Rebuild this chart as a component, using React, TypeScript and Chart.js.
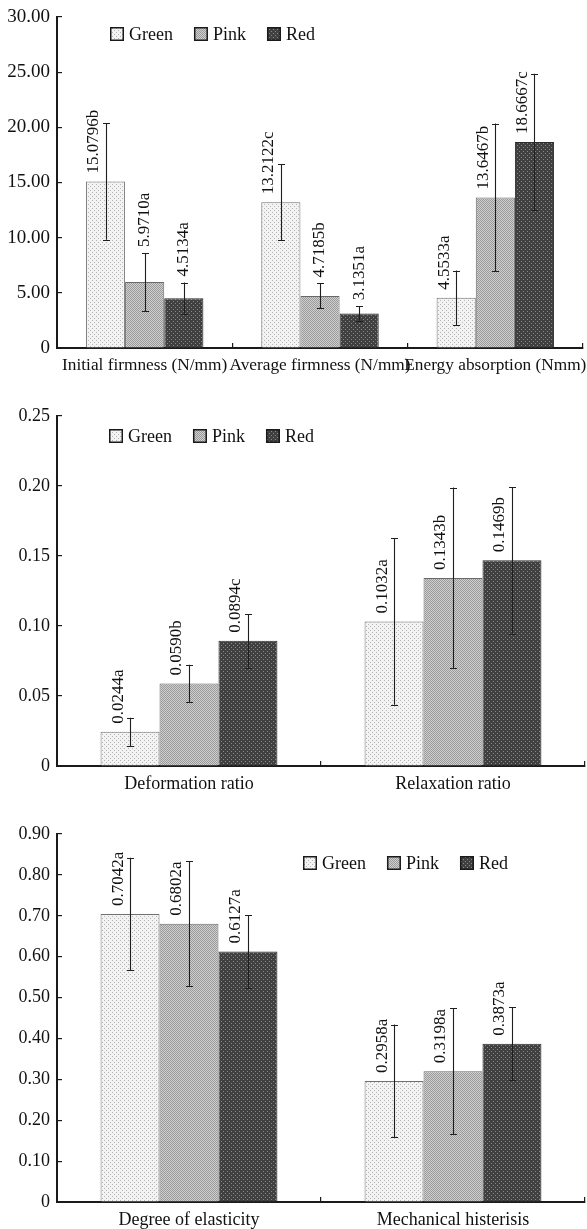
import React, { useEffect, useRef } from 'react';
import { Chart, registerables } from 'chart.js';

Chart.register(...registerables);

// ---------- Data ----------
const SERIES = ['Green', 'Pink', 'Red'];

// Chart 1: firmness / energy
const FIRM_CATEGORIES = ['Initial firmness (N/mm)', 'Average firmness (N/mm)', 'Energy absorption (Nmm)'];
const FIRM_GREEN = [15.0796, 13.2122, 4.5533];
const FIRM_PINK = [5.971, 4.7185, 13.6467];
const FIRM_RED = [4.5134, 3.1351, 18.6667];
const FIRM_GREEN_ERR = [5.27, 3.46, 2.46];
const FIRM_PINK_ERR = [2.64, 1.13, 6.7];
const FIRM_RED_ERR = [1.42, 0.65, 6.2];
const FIRM_GREEN_LETTERS = ['b', 'c', 'a'];
const FIRM_PINK_LETTERS = ['a', 'b', 'b'];
const FIRM_RED_LETTERS = ['a', 'a', 'c'];

// Chart 2: ratios
const RATIO_CATEGORIES = ['Deformation ratio', 'Relaxation ratio'];
const RATIO_GREEN = [0.0244, 0.1032];
const RATIO_PINK = [0.059, 0.1343];
const RATIO_RED = [0.0894, 0.1469];
const RATIO_GREEN_ERR = [0.0101, 0.0595];
const RATIO_PINK_ERR = [0.0133, 0.0646];
const RATIO_RED_ERR = [0.0191, 0.0523];
const RATIO_GREEN_LETTERS = ['a', 'a'];
const RATIO_PINK_LETTERS = ['b', 'b'];
const RATIO_RED_LETTERS = ['c', 'b'];

// Chart 3: elasticity / hysteresis
const ELAST_CATEGORIES = ['Degree of elasticity', 'Mechanical histerisis'];
const ELAST_GREEN = [0.7042, 0.2958];
const ELAST_PINK = [0.6802, 0.3198];
const ELAST_RED = [0.6127, 0.3873];
const ELAST_GREEN_ERR = [0.138, 0.138];
const ELAST_PINK_ERR = [0.153, 0.154];
const ELAST_RED_ERR = [0.089, 0.089];
const ELAST_GREEN_LETTERS = ['a', 'a'];
const ELAST_PINK_LETTERS = ['a', 'a'];
const ELAST_RED_LETTERS = ['a', 'a'];

// ---------- Styling helpers ----------
const FONT_FAMILY = '"Liberation Serif", "Times New Roman", serif';
Chart.defaults.font.family = FONT_FAMILY;
Chart.defaults.color = '#111';

function makePattern(kind: string): CanvasPattern | string {
  const c = document.createElement('canvas');
  c.width = 4;
  c.height = 4;
  const g = c.getContext('2d');
  if (!g) return '#ccc';
  if (kind === 'Green') {
    g.fillStyle = '#f3f3f3';
    g.fillRect(0, 0, 4, 4);
    g.fillStyle = '#b4b4b4';
    g.fillRect(0, 0, 1, 1);
    g.fillRect(2, 2, 1, 1);
  } else if (kind === 'Pink') {
    g.fillStyle = '#cfcfcf';
    g.fillRect(0, 0, 4, 4);
    g.fillStyle = '#9a9a9a';
    g.fillRect(0, 0, 1, 1);
    g.fillRect(2, 0, 1, 1);
    g.fillRect(1, 1, 1, 1);
    g.fillRect(3, 1, 1, 1);
    g.fillRect(0, 2, 1, 1);
    g.fillRect(2, 2, 1, 1);
    g.fillRect(1, 3, 1, 1);
    g.fillRect(3, 3, 1, 1);
  } else {
    g.fillStyle = '#404040';
    g.fillRect(0, 0, 4, 4);
    g.fillStyle = '#8a8a8a';
    g.fillRect(1, 1, 1, 1);
    g.fillRect(3, 3, 1, 1);
  }
  return g.createPattern(c, 'repeat') || '#ccc';
}

const BORDER_COLORS: Record<string, string> = { Green: '#707070', Pink: '#686868', Red: '#2c2c2c' };

// ---------- Plugins ----------
const errorLabelPlugin = {
  id: 'errLabels',
  afterDatasetsDraw(chart: any, _args: any, opts: any) {
    const ctx = chart.ctx;
    const y = chart.scales.y;
    ctx.save();
    chart.data.datasets.forEach((ds: any, di: number) => {
      const meta = chart.getDatasetMeta(di);
      meta.data.forEach((bar: any, i: number) => {
        const v = ds.data[i];
        const e = opts.errors[di][i];
        const yTop = y.getPixelForValue(v + e);
        const yBot = y.getPixelForValue(Math.max(v - e, 0));
        const x = Math.round(bar.x) + 0.5;
        ctx.strokeStyle = '#1e1e1e';
        ctx.lineWidth = 1.1;
        ctx.beginPath();
        ctx.moveTo(x, yTop);
        ctx.lineTo(x, yBot);
        ctx.moveTo(x - 3.5, Math.round(yTop) + 0.5);
        ctx.lineTo(x + 3.5, Math.round(yTop) + 0.5);
        ctx.moveTo(x - 3.5, Math.round(yBot) + 0.5);
        ctx.lineTo(x + 3.5, Math.round(yBot) + 0.5);
        ctx.stroke();

        const text = v.toFixed(4) + opts.letters[di][i];
        const centered = opts.centered && opts.centered[di][i];
        const lx = centered ? bar.x : bar.x - 12;
        const ly = centered ? yTop - 6 : bar.y - 8;
        ctx.save();
        ctx.translate(lx, ly);
        ctx.rotate(-Math.PI / 2);
        ctx.font = `17px ${FONT_FAMILY}`;
        ctx.fillStyle = '#111';
        ctx.textAlign = 'left';
        ctx.textBaseline = 'middle';
        ctx.fillText(text, 0, 0);
        ctx.restore();
      });
    });
    ctx.restore();
  },
};

const boxLegendPlugin = {
  id: 'boxLegend',
  afterDraw(chart: any, _args: any, opts: any) {
    const ctx = chart.ctx;
    ctx.save();
    ctx.font = `18px ${FONT_FAMILY}`;
    ctx.textBaseline = 'middle';
    ctx.textAlign = 'left';
    let x = opts.x;
    const cy = opts.y;
    chart.data.datasets.forEach((ds: any) => {
      ctx.fillStyle = ds.backgroundColor;
      ctx.fillRect(x, cy - 7, 14, 14);
      ctx.strokeStyle = '#1a1a1a';
      ctx.lineWidth = 1.5;
      ctx.strokeRect(x + 0.75, cy - 6.25, 12.5, 12.5);
      ctx.fillStyle = '#111';
      ctx.fillText(ds.label, x + 19, cy + 1);
      x += 19 + ctx.measureText(ds.label).width + 21;
    });
    ctx.restore();
  },
};

// ---------- Chart builder ----------
interface PanelSpec {
  categories: string[];
  values: number[][];
  errors: number[][];
  letters: string[][];
  centered?: boolean[][];
  max: number;
  step: number;
  yFont: number;
  xFont: number;
  canvasHeight: number;
  padTop: number;
  padRight: number;
  xHeight: number;
  legendX: number;
  legendY: number;
}

function buildConfig(p: PanelSpec): any {
  return {
    type: 'bar',
    data: {
      labels: p.categories,
      datasets: SERIES.map((name, si) => ({
        label: name,
        data: p.values[si],
        backgroundColor: makePattern(name),
        borderColor: BORDER_COLORS[name],
        borderWidth: 1,
        categoryPercentage: 0.67,
        barPercentage: 1.0,
      })),
    },
    options: {
      responsive: false,
      animation: false,
      devicePixelRatio: 1,
      layout: { padding: { top: p.padTop, right: p.padRight, left: 0, bottom: 0 } },
      plugins: {
        legend: { display: false },
        tooltip: { enabled: false },
        errLabels: { errors: p.errors, letters: p.letters, centered: p.centered },
        boxLegend: { x: p.legendX, y: p.legendY },
      },
      scales: {
        x: {
          type: 'category',
          offset: true,
          grid: {
            display: true,
            drawOnChartArea: false,
            drawTicks: true,
            tickLength: -5,
            offset: true,
            color: '#1a1a1a',
            lineWidth: 1.2,
          },
          border: { display: true, color: '#1a1a1a', width: 2 },
          ticks: {
            font: { size: p.xFont },
            color: '#111',
            padding: 12,
            autoSkip: false,
            maxRotation: 0,
            minRotation: 0,
          },
          afterFit: (s: any) => {
            s.height = p.xHeight;
            s.paddingLeft = 0;
            s.paddingRight = 0;
          },
        },
        y: {
          min: 0,
          max: p.max,
          grid: {
            display: true,
            drawOnChartArea: false,
            drawTicks: true,
            tickLength: -5,
            color: '#1a1a1a',
            lineWidth: 1.2,
          },
          border: { display: true, color: '#1a1a1a', width: 2 },
          ticks: {
            stepSize: p.step,
            font: { size: p.yFont },
            color: '#111',
            padding: 12,
            callback: (v: any) => (Number(v) === 0 ? '0' : Number(v).toFixed(2)),
          },
          afterFit: (s: any) => {
            s.width = 57;
            s.paddingTop = 0;
            s.paddingBottom = 0;
          },
        },
      },
    },
    plugins: [errorLabelPlugin, boxLegendPlugin],
  };
}

const PANEL_FIRM: PanelSpec = {
  categories: FIRM_CATEGORIES,
  values: [FIRM_GREEN, FIRM_PINK, FIRM_RED],
  errors: [FIRM_GREEN_ERR, FIRM_PINK_ERR, FIRM_RED_ERR],
  letters: [FIRM_GREEN_LETTERS, FIRM_PINK_LETTERS, FIRM_RED_LETTERS],
  centered: [
    [false, false, false],
    [true, true, false],
    [true, true, false],
  ],
  max: 30,
  step: 5,
  yFont: 19,
  xFont: 17.3,
  canvasHeight: 390,
  padTop: 17,
  padRight: 4,
  xHeight: 42,
  legendX: 110,
  legendY: 34,
};

const PANEL_RATIO: PanelSpec = {
  categories: RATIO_CATEGORIES,
  values: [RATIO_GREEN, RATIO_PINK, RATIO_RED],
  errors: [RATIO_GREEN_ERR, RATIO_PINK_ERR, RATIO_RED_ERR],
  letters: [RATIO_GREEN_LETTERS, RATIO_PINK_LETTERS, RATIO_RED_LETTERS],
  max: 0.25,
  step: 0.05,
  yFont: 18,
  xFont: 18,
  canvasHeight: 400,
  padTop: 16,
  padRight: 2,
  xHeight: 34,
  legendX: 109,
  legendY: 36,
};

const PANEL_ELAST: PanelSpec = {
  categories: ELAST_CATEGORIES,
  values: [ELAST_GREEN, ELAST_PINK, ELAST_RED],
  errors: [ELAST_GREEN_ERR, ELAST_PINK_ERR, ELAST_RED_ERR],
  letters: [ELAST_GREEN_LETTERS, ELAST_PINK_LETTERS, ELAST_RED_LETTERS],
  max: 0.9,
  step: 0.1,
  yFont: 18,
  xFont: 18,
  canvasHeight: 409,
  padTop: 14,
  padRight: 2,
  xHeight: 27,
  legendX: 303,
  legendY: 43,
};

function Panel({ spec, top }: { spec: PanelSpec; top: number }) {
  const ref = useRef<HTMLCanvasElement | null>(null);
  useEffect(() => {
    if (!ref.current) return;
    const chart = new Chart(ref.current, buildConfig(spec));
    return () => chart.destroy();
  }, [spec]);
  return (
    <canvas
      ref={ref}
      width={587}
      height={spec.canvasHeight}
      style={{ position: 'absolute', left: 0, top, width: 587, height: spec.canvasHeight, display: 'block' }}
    />
  );
}

export default function App() {
  return (
    <div style={{ position: 'absolute', left: 0, top: 0, width: 587, height: 1229, background: '#fff', overflow: 'hidden' }}>
      <Panel spec={PANEL_FIRM} top={0} />
      <Panel spec={PANEL_RATIO} top={400} />
      <Panel spec={PANEL_ELAST} top={820} />
    </div>
  );
}
